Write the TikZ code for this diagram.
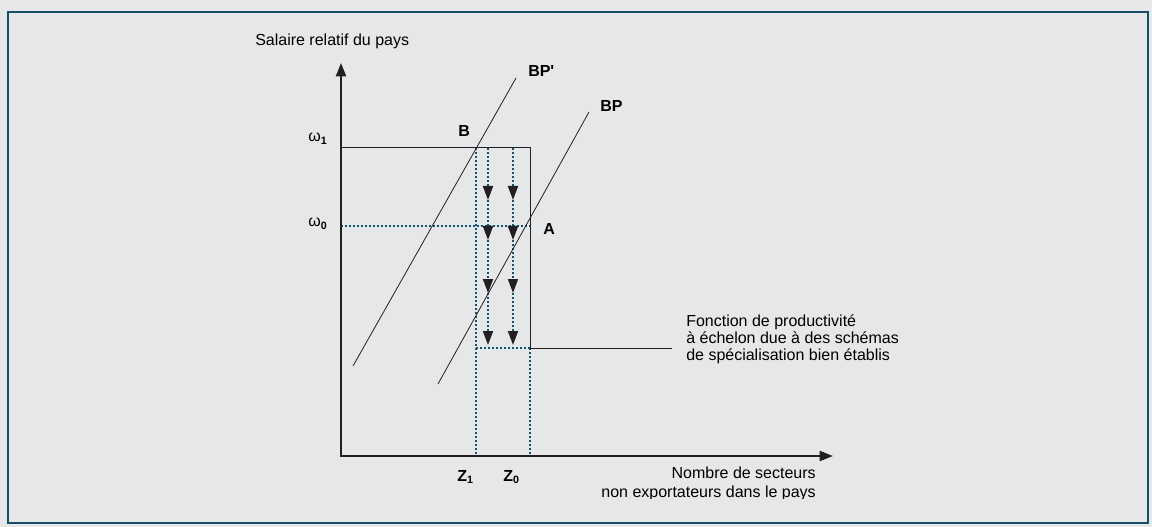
\documentclass[tikz,border=0pt]{standalone}
\usepackage{fontspec}
\setmainfont{Liberation Sans}
\usetikzlibrary{arrows.meta}
\definecolor{panelgray}{RGB}{230,231,233}
\definecolor{frameteal}{RGB}{22,78,104}
\definecolor{dotteal}{RGB}{16,84,112}
\definecolor{inkblack}{RGB}{35,31,32}
\tikzset{
  >=Triangle,
  axisline/.style={{Triangle[length=10pt, width=7.5pt]}-{Triangle[length=10pt, width=7.5pt]}, line width=1.5pt, inkblack},
  bpline/.style={line width=0.6pt, inkblack},
  stepline/.style={line width=0.75pt, inkblack},
  dotline/.style={dotteal, line width=1.4pt, dash pattern=on 1.4pt off 1.6pt},
  dotarrow/.style={dotline, -{Triangle[length=10.5pt, width=7.5pt, color=inkblack, fill=inkblack]}}
}
\begin{document}
\begin{tikzpicture}[x=0.75pt, y=-0.75pt,
    lbl/.style={inner sep=0pt, font=\fontsize{12}{14}\selectfont},
    blbl/.style={inner sep=0pt, font=\fontsize{12}{14}\selectfont\bfseries}]

    % Panel and frame
    \fill[panelgray] (0,0) rectangle (1152,527);
    \useasboundingbox (0,0) rectangle (1152,527);
    \draw[frameteal, line width=1.5pt] (8,12) rectangle (1148,523);

    % Axes
    \coordinate (O) at (341,456);
    \coordinate (ytop) at (341,63);
    \coordinate (xend) at (833,456);

    % Wage levels and step function corners
    \coordinate (w1) at (341,148);
    \coordinate (w0) at (341,226);
    \coordinate (Bpt) at (476,148);
    \coordinate (stepTop) at (530,148);
    \coordinate (Apt) at (530,226);
    \coordinate (stepLow) at (530,348);
    \coordinate (stepZ1) at (476,348);
    \coordinate (z1) at (476,456);
    \coordinate (z0) at (530,456);
    \coordinate (noteEnd) at (672,348);

    % BP' and BP lines
    \coordinate (bppLow) at (353,366);
    \coordinate (bppHigh) at (516,78);
    \coordinate (bpLow) at (438,384);
    \coordinate (bpHigh) at (589,112);

    % Downward arrows
    \coordinate (a0) at (488,148);
    \coordinate (a1) at (488,200);
    \coordinate (a2) at (488,240);
    \coordinate (a3) at (488,293);
    \coordinate (a4) at (488,345);
    \coordinate (b0) at (513,148);
    \coordinate (b1) at (513,200);
    \coordinate (b2) at (513,240);
    \coordinate (b3) at (513,293);
    \coordinate (b4) at (513,345);

    % Dotted guides
    \draw[dotline] (w0) -- (Apt);
    \draw[dotline] (Bpt) -- (z1);
    \draw[dotline] (stepZ1) -- (stepLow);
    \draw[dotline] (stepLow) -- (z0);

    \draw[dotarrow] (a0) -- (a1);
    \draw[dotarrow] (a1) -- (a2);
    \draw[dotarrow] (a2) -- (a3);
    \draw[dotarrow] (a3) -- (a4);
    \draw[dotarrow] (b0) -- (b1);
    \draw[dotarrow] (b1) -- (b2);
    \draw[dotarrow] (b2) -- (b3);
    \draw[dotarrow] (b3) -- (b4);

    % Step function
    \draw[stepline] (w1) -- (stepTop) -- (stepLow) -- (noteEnd);

    % Curves
    \draw[bpline] (bppLow) -- (bppHigh);
    \draw[bpline] (bpLow) -- (bpHigh);

    \draw[axisline] (ytop) -- (O) -- (xend);

    % Labels
    \node[lbl, anchor=base west] (ylabel) at (255,46) {Salaire relatif du pays};
    \node[lbl, anchor=base west] (w1lbl) at (308,142) {ω\textsubscript{\bfseries 1}};
    \node[lbl, anchor=base west] (w0lbl) at (308,227) {ω\textsubscript{\bfseries 0}};
    \node[blbl, anchor=base west] (bpplbl) at (528,77) {BP\textquotesingle};
    \node[blbl, anchor=base west] (bplbl) at (600,112) {BP};
    \node[blbl, anchor=base west] (Blbl) at (458,137) {B};
    \node[blbl, anchor=base west] (Albl) at (543,235) {A};
    \node[blbl, anchor=base west] (z1lbl) at (457,481) {Z\textsubscript{1}};
    \node[blbl, anchor=base west] (z0lbl) at (503,481) {Z\textsubscript{0}};
    \node[lbl, anchor=north west, align=left, font=\fontsize{12}{12.75}\selectfont] (notelbl) at (686,314)
        {Fonction de productivité\\à échelon due à des schémas\\de spécialisation bien établis};
    \begin{scope}
        \clip (590,440) rectangle (830,498.5);
        \node[lbl, anchor=north east, align=right, font=\fontsize{12}{14.25}\selectfont] (xlabel) at (816,467)
            {Nombre de secteurs\\non exportateurs dans le pays};
    \end{scope}
\end{tikzpicture}
\end{document}
